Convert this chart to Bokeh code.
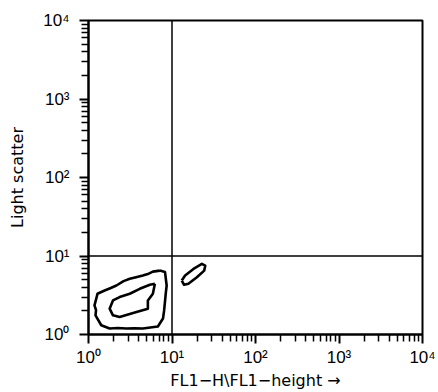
from bokeh.plotting import figure
from bokeh.models import FixedTicker
from bokeh.embed import file_html
from bokeh.resources import INLINE

# Tick values and labels
major_ticks = [1, 10, 100, 1000, 10000]
minor_ticks = [m * d for d in [1, 10, 100, 1000] for m in range(2, 10)]
tick_labels = ["10\u2070", "10\u00b9", "10\u00b2", "10\u00b3", "10\u2074"]

# Quadrant gates
gate_x = 10
gate_y = 10

# Contours (log10 exponents)
outer_lx = [0.855, 0.916, 0.936, 0.925, 0.916, 0.905, 0.892, 0.831, 0.74, 0.651, 0.55, 0.454,
            0.35, 0.253, 0.153, 0.084, 0.09, 0.072, 0.108, 0.193, 0.26, 0.334, 0.42, 0.494,
            0.57, 0.651, 0.71, 0.771]
outer_ly = [0.814, 0.797, 0.624, 0.52, 0.418, 0.3, 0.203, 0.101, 0.09, 0.076, 0.08, 0.076,
            0.082, 0.076, 0.118, 0.244, 0.31, 0.371, 0.519, 0.561, 0.59, 0.624, 0.68, 0.709,
            0.73, 0.751, 0.77, 0.801]
inner_lx = [0.795, 0.771, 0.711, 0.711, 0.575, 0.373, 0.293, 0.253, 0.293, 0.373, 0.494,
            0.614, 0.735]
inner_ly = [0.646, 0.519, 0.434, 0.329, 0.287, 0.224, 0.244, 0.329, 0.434, 0.477, 0.519,
            0.582, 0.633]
small_lx = [1.117, 1.145, 1.196, 1.298, 1.386, 1.398, 1.358, 1.257, 1.157]
small_ly = [0.687, 0.633, 0.646, 0.730, 0.814, 0.877, 0.899, 0.835, 0.751]

contours = [(outer_lx, outer_ly), (inner_lx, inner_ly), (small_lx, small_ly)]

p = figure(width=438, height=392, x_axis_type="log", y_axis_type="log",
           x_range=(1, 10000), y_range=(1, 10000),
           output_backend="svg", toolbar_location=None,
           min_border_left=88, min_border_right=16, min_border_top=20, min_border_bottom=56)

p.xgrid.visible = False
p.ygrid.visible = False
p.outline_line_color = "black"
p.outline_line_width = 2
p.background_fill_color = "white"
p.border_fill_color = "white"

labels = {t: l for t, l in zip(major_ticks, tick_labels)}
for ax in (p.xaxis[0], p.yaxis[0]):
    ax.ticker = FixedTicker(ticks=major_ticks, minor_ticks=minor_ticks)
    ax.major_label_overrides = labels
    ax.axis_line_width = 2
    ax.major_tick_line_width = 2
    ax.minor_tick_line_width = 1.5
    ax.major_tick_out = 9
    ax.major_tick_in = 0
    ax.minor_tick_out = 7
    ax.minor_tick_in = 0
    ax.major_label_text_font = "Liberation Sans"
    ax.major_label_text_font_size = "17px"
    ax.major_label_text_color = "black"
    ax.axis_label_text_font = "DejaVu Sans"
    ax.axis_label_text_font_style = "normal"
    ax.axis_label_text_font_size = "16px"
    ax.axis_label_text_color = "black"

p.xaxis.axis_label = "FL1\u2212H\\FL1\u2212height \u2192"
p.yaxis.axis_label = "Light scatter"
p.xaxis.major_label_standoff = 4
p.xaxis.axis_label_standoff = 1
p.yaxis.major_label_standoff = 10
p.yaxis.axis_label_standoff = 13

# Quadrant lines
p.line([gate_x, gate_x], [1, 10000], line_color="black", line_width=1.5)
p.line([1, 10000], [gate_y, gate_y], line_color="black", line_width=1.5)

for lx, ly in contours:
    xs = [10 ** v for v in lx] + [10 ** lx[0]]
    ys = [10 ** v for v in ly] + [10 ** ly[0]]
    p.line(xs, ys, line_color="black", line_width=2.6, line_join="round")

open("out.html", "w").write(file_html(p, INLINE))
